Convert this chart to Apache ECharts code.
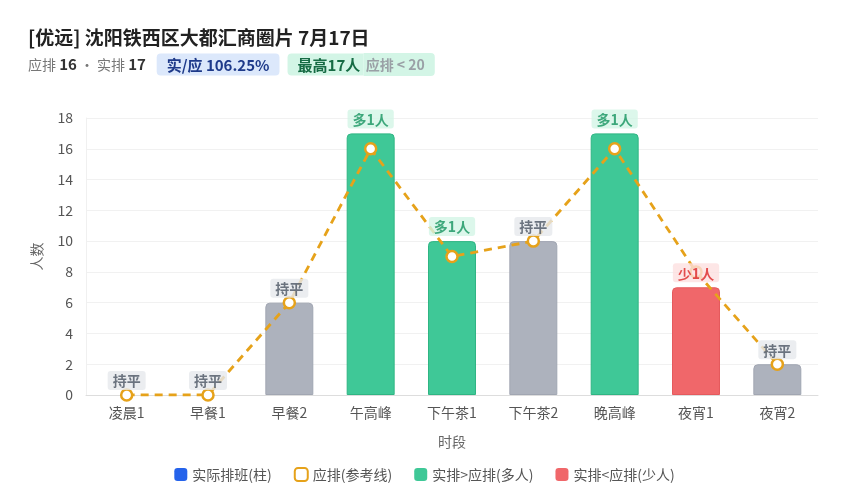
<!DOCTYPE html>
<html>
<head>
<meta charset="utf-8">
<script src="https://cdn.jsdelivr.net/npm/echarts@6/dist/echarts.min.js"></script>
<style>
html,body{margin:0;padding:0;background:#fff;}
#chart{width:849px;height:500px;}
</style>
</head>
<body>
<div id="chart"></div>
<script>
// 时段
var categories = ['凌晨1', '早餐1', '早餐2', '午高峰', '下午茶1', '下午茶2', '晚高峰', '夜宵1', '夜宵2'];
// 实际排班
var actualData = [0, 0, 6, 17, 10, 10, 17, 7, 2];
// 应排
var planData = [0, 0, 6, 16, 9, 10, 16, 8, 2];
var yTicks = [0, 2, 4, 6, 8, 10, 12, 14, 16, 18];

var C_GREEN = '#3fc897', C_GRAY = '#adb2bd', C_RED = '#f0676a', C_BLUE = '#2563eb', C_LINE = '#e6a21a';
var FONT = '"Noto Sans CJK SC", "Noto Sans", sans-serif';

// 柱子按差值着色
function diffStyle(i) {
    var d = actualData[i] - planData[i];
    if (d > 0) return { color: C_GREEN, border: '#2fb583', bg: '#d3f5e6', fg: '#15935f', txt: '多' + d + '人' };
    if (d < 0) return { color: C_RED, border: '#e55a5d', bg: '#fde0e0', fg: '#dc2626', txt: '少' + (-d) + '人' };
    return { color: C_GRAY, border: '#a1a6b2', bg: '#e6e8ec', fg: '#4b5563', txt: '持平' };
}

var barData = actualData.map(function (v, i) {
    var s = diffStyle(i);
    return { value: v, itemStyle: { color: s.color, borderColor: s.border, borderWidth: v > 0 ? 1 : 0 } };
});

// 标签单独一层，压在参考线上面
var labelData = actualData.map(function (v, i) {
    var s = diffStyle(i);
    return {
        value: [i, v],
        label: {
            show: true, position: 'top', formatter: s.txt, distance: 5,
            color: s.fg, backgroundColor: s.bg, fontWeight: 'bold', fontSize: 14,
            padding: [3, 5, 2, 5], borderRadius: 3, fontFamily: FONT
        }
    };
});

var maxPlan = Math.max.apply(null, planData);
var maxActual = Math.max.apply(null, actualData);
var ratio = (maxActual / maxPlan * 100).toFixed(2) + '%';

var option = {
    textStyle: { fontFamily: FONT },
    title: {
        left: 23, top: 23,
        text: '[优远] 沈阳铁西区大都汇商圈片 7月17日',
        textStyle: { fontSize: 19, fontWeight: 'bold', color: '#222', fontFamily: FONT },
        itemGap: 6,
        subtext: '{g|应排 }{b|' + maxPlan + '}{g| · 实排 }{b|' + maxActual + '}    {blue|实/应 ' + ratio + '}   {green|最高' + maxActual + '人 }{gt|应排 < 20}',
        subtextStyle: {
            rich: {
                g: { color: '#777', fontSize: 14, fontFamily: FONT },
                b: { color: '#333', fontSize: 15, fontWeight: 'bold', fontFamily: FONT },
                blue: { color: '#1e3a8a', fontSize: 15, fontWeight: 'bold', backgroundColor: '#dce8fb', padding: [4, 10, 3, 10], borderRadius: 4, fontFamily: FONT },
                green: { color: '#166b44', fontSize: 15, fontWeight: 'bold', backgroundColor: '#d3f5e6', padding: [4, 0, 3, 10], borderRadius: [4, 0, 0, 4], fontFamily: FONT },
                gt: { color: '#9aa0a6', fontSize: 14, fontWeight: 'bold', backgroundColor: '#d3f5e6', padding: [5, 10, 4, 2], borderRadius: [0, 4, 4, 0], fontFamily: FONT }
            }
        }
    },
    legend: {
        bottom: 13, left: 'center', itemWidth: 13, itemHeight: 13, itemGap: 22,
        textStyle: { color: '#555', fontSize: 14, fontFamily: FONT },
        data: [
            { name: '实际排班(柱)', icon: 'roundRect', itemStyle: { color: C_BLUE } },
            { name: '应排(参考线)', icon: 'roundRect', itemStyle: { color: '#fff', borderColor: C_LINE, borderWidth: 2 } },
            { name: '实排>应排(多人)', icon: 'roundRect', itemStyle: { color: C_GREEN } },
            { name: '实排<应排(少人)', icon: 'roundRect', itemStyle: { color: C_RED } }
        ],
        selectedMode: false
    },
    grid: { left: 86, right: 31, top: 118, bottom: 105 },
    xAxis: {
        type: 'category', data: categories,
        name: '时段', nameLocation: 'middle', nameGap: 40,
        nameTextStyle: { color: '#666', fontSize: 14 },
        axisTick: { show: false },
        axisLine: { lineStyle: { color: '#ddd' } },
        axisLabel: { color: '#555', fontSize: 14, margin: 11 }
    },
    yAxis: {
        type: 'value', min: yTicks[0], max: yTicks[yTicks.length - 1], interval: 2,
        name: '人数', nameLocation: 'middle', nameGap: 42,
        nameTextStyle: { color: '#666', fontSize: 14 },
        axisLine: { show: true, lineStyle: { color: '#f0f0f0' } },
        axisLabel: { color: '#555', fontSize: 14, margin: 13 },
        splitLine: { lineStyle: { color: '#f1f1f1' } }
    },
    series: [
        {
            name: '实际排班(柱)', type: 'bar', stack: 'a', barWidth: '59%',
            data: barData,
            itemStyle: { color: C_BLUE, borderRadius: [4, 4, 0, 0] },
            z: 2
        },
        { name: '实排>应排(多人)', type: 'bar', stack: 'a', data: [], itemStyle: { color: C_GREEN } },
        { name: '实排<应排(少人)', type: 'bar', stack: 'a', data: [], itemStyle: { color: C_RED } },
        {
            name: '应排(参考线)', type: 'line', data: planData,
            symbol: 'circle', symbolSize: 11,
            lineStyle: { color: C_LINE, width: 2.8, type: [8, 6] },
            itemStyle: { color: '#fff', borderColor: C_LINE, borderWidth: 2.5 },
            z: 3
        },
        {
            name: '标签', type: 'scatter', data: labelData,
            symbolSize: 0, silent: true, z: 5
        }
    ]
};

var myChart = echarts.init(document.getElementById('chart'));
myChart.setOption(option);
</script>
</body>
</html>
